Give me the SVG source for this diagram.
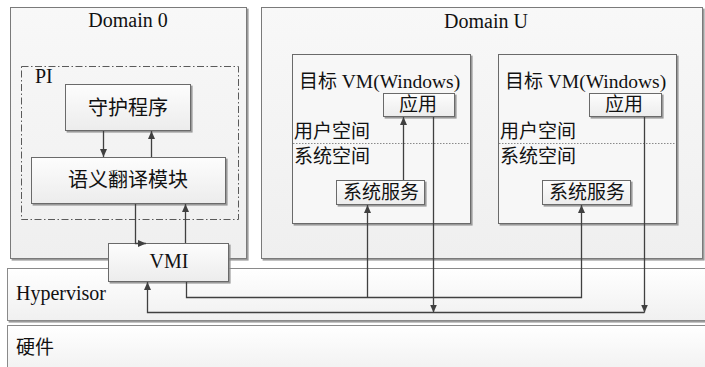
<svg xmlns="http://www.w3.org/2000/svg" width="705" height="367" viewBox="0 0 705 367">
  <defs>
    <linearGradient id="boxFill" x1="0" y1="0" x2="0" y2="1">
      <stop offset="0" stop-color="#fdfdfd"/>
      <stop offset="1" stop-color="#ececec"/>
    </linearGradient>
    <linearGradient id="panelFill" x1="0" y1="0" x2="0" y2="1">
      <stop offset="0" stop-color="#f8f8f8"/>
      <stop offset="1" stop-color="#efefef"/>
    </linearGradient>
    <linearGradient id="bandFill" x1="0" y1="0" x2="0" y2="1">
      <stop offset="0" stop-color="#ffffff"/>
      <stop offset="1" stop-color="#f0f0f0"/>
    </linearGradient>
    <filter id="shadow" x="-5%" y="-5%" width="115%" height="120%">
      <feDropShadow dx="1.6" dy="1.6" stdDeviation="0.6" flood-color="#8a8a8a" flood-opacity="0.85"/>
    </filter>
    <marker id="arrow" markerUnits="userSpaceOnUse" markerWidth="8" markerHeight="7" refX="8" refY="3.5" orient="auto">
      <path d="M0,0 L8,3.5 L0,7 z" fill="#404040"/>
    </marker>
  </defs>
  <style>
    .panel { fill: url(#panelFill); stroke: #7a7a7a; stroke-width: 1; filter: url(#shadow); }
    .band { fill: url(#bandFill); stroke: #8a8a8a; stroke-width: 1; filter: url(#shadow); }
    .box { fill: url(#boxFill); stroke: #6a6a6a; stroke-width: 1; filter: url(#shadow); }
    .vm { fill: #f7f7f7; stroke: #6a6a6a; stroke-width: 1; filter: url(#shadow); }
    .pi { fill: none; stroke: #5a5a5a; stroke-width: 1; stroke-dasharray: 7 2.5 1.5 2.5; }
    .sep { stroke: #8a8a8a; stroke-width: 1; stroke-dasharray: 1.5 1.5; }
    .lat { font-family: "Liberation Serif", "Times New Roman", serif; font-size: 20px; fill: #111; }
    .cjk { font-family: "Liberation Serif", "Noto Sans CJK SC", sans-serif; font-size: 19px; fill: #111; }
    .mid { text-anchor: middle; }
    .conn path { fill: none; stroke: #404040; stroke-width: 1.3; }
    .conn .arr { marker-end: url(#arrow); }
  </style>

  <rect width="705" height="367" fill="#ffffff"/>

  <!-- Domain 0 -->
  <g id="domain0">
    <rect class="panel" x="10.5" y="7.5" width="236" height="251"/>
    <text class="lat mid" x="128" y="27">Domain 0</text>
  </g>

  <!-- Domain U -->
  <g id="domainU">
    <rect class="panel" x="261.5" y="7.5" width="441" height="251"/>
    <text class="lat mid" x="486" y="28">Domain U</text>
  </g>

  <!-- Hypervisor layer -->
  <g id="hypervisor">
    <rect class="band" x="7.5" y="268.5" width="700" height="52"/>
    <text class="lat" x="16" y="300">Hypervisor</text>
  </g>

  <!-- Hardware layer -->
  <g id="hardware">
    <rect class="band" x="7.5" y="325.5" width="700" height="50"/>
    <text class="cjk" x="16" y="354">硬件</text>
  </g>

  <!-- PI group -->
  <g id="pi">
    <rect class="pi" x="21.5" y="66.5" width="217" height="153"/>
    <text class="lat" x="35" y="83">PI</text>
  </g>

  <g id="daemon">
    <rect class="box" x="65.5" y="84.5" width="125" height="46"/>
    <text class="cjk mid" x="128" y="115" style="font-size:20px">守护程序</text>
  </g>

  <g id="translator">
    <rect class="box" x="31.5" y="157.5" width="194" height="46"/>
    <text class="cjk mid" x="128" y="187" style="font-size:20px">语义翻译模块</text>
  </g>

  <g id="vmi">
    <rect class="box" x="108.5" y="243.5" width="120" height="38"/>
    <text class="lat mid" x="169" y="268">VMI</text>
  </g>

  <!-- Target VM 1 -->
  <g id="vm1">
    <rect class="vm" x="292.5" y="54.5" width="178" height="169"/>
    <text class="cjk" x="299" y="88">目标 <tspan class="lat" style="font-size:19.5px">VM(Windows)</tspan></text>
    <line class="sep" x1="293" y1="143.5" x2="470" y2="143.5"/>
    <text class="cjk" x="294" y="138">用户空间</text>
    <text class="cjk" x="294" y="163">系统空间</text>
  </g>
  <g id="vm1-app">
    <rect class="box" x="383.5" y="93.5" width="71" height="23"/>
    <text class="cjk mid" x="418" y="111">应用</text>
  </g>
  <g id="vm1-service">
    <rect class="box" x="336.5" y="180.5" width="88" height="24"/>
    <text class="cjk mid" x="381" y="199">系统服务</text>
  </g>

  <!-- Target VM 2 -->
  <g id="vm2">
    <rect class="vm" x="498.5" y="54.5" width="178" height="169"/>
    <text class="cjk" x="505" y="88">目标 <tspan class="lat" style="font-size:19.5px">VM(Windows)</tspan></text>
    <line class="sep" x1="499" y1="143.5" x2="676" y2="143.5"/>
    <text class="cjk" x="500" y="138">用户空间</text>
    <text class="cjk" x="500" y="163">系统空间</text>
  </g>
  <g id="vm2-app">
    <rect class="box" x="589.5" y="93.5" width="72" height="23"/>
    <text class="cjk mid" x="624" y="111">应用</text>
  </g>
  <g id="vm2-service">
    <rect class="box" x="542.5" y="180.5" width="88" height="24"/>
    <text class="cjk mid" x="587" y="199">系统服务</text>
  </g>

  <!-- Connectors -->
  <g id="connectors" class="conn">
    <path class="arr" d="M103.5,131 V157"/>
    <path class="arr" d="M151.5,157 V131"/>
    <path class="arr" d="M135.5,204 V243.5 H146"/>
    <path class="arr" d="M185.5,243 V204"/>
    <path class="arr" d="M403.5,180 V117"/>
    <path class="arr" d="M186.5,282 V297.5 H581.5 V205"/>
    <path class="arr" d="M367.5,297.5 V205"/>
    <path class="arr" d="M433.5,117 V312.5"/>
    <path class="arr" d="M644.5,117 V312.5"/>
    <path class="arr" d="M644.5,312.5 H147.5 V282"/>
  </g>
</svg>
